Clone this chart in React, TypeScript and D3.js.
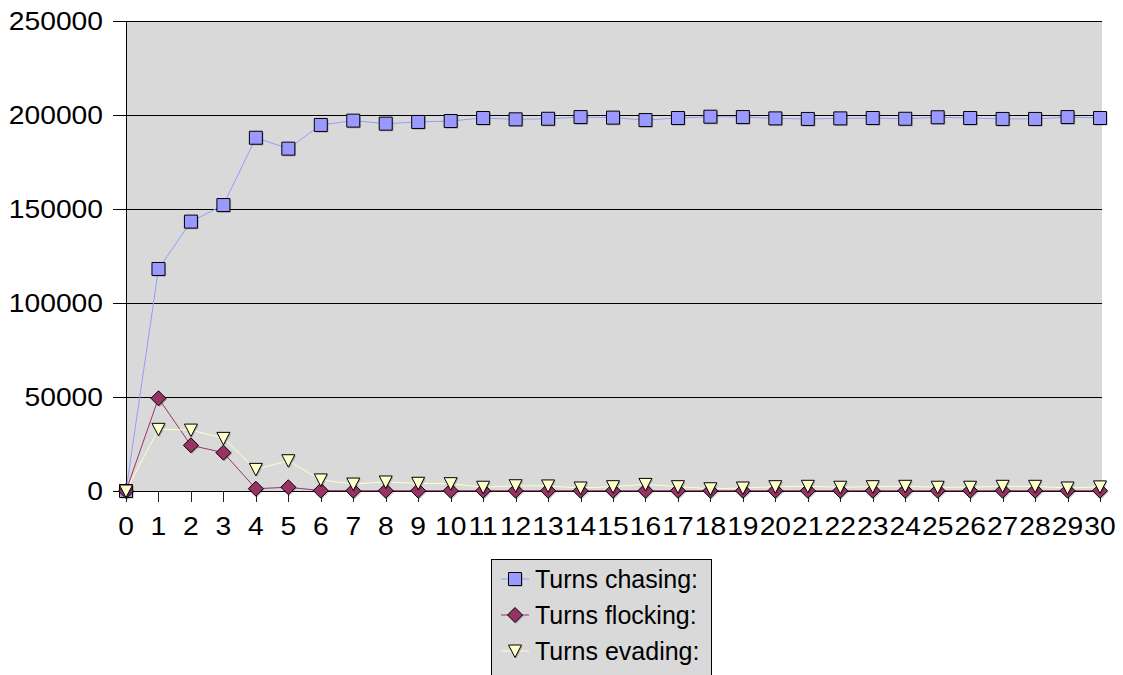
import React from "react";
import * as d3 from "d3";

// Turn counts per generation for each behaviour
const generations: number[] = d3.range(0, 31);
const turnsChasing: number[] = [
  0, 118100, 143300, 152100, 187900, 182100, 194700, 197000, 195400, 196300,
  196800, 198400, 197700, 198000, 198900, 198600, 197300, 198400, 199100, 198900,
  198200, 197900, 198200, 198400, 198000, 198800, 198400, 197900, 197900, 198900,
  198400,
];
const turnsFlocking: number[] = [
  0, 49300, 24300, 20400, 1200, 2000, 200, 150, 150, 150,
  150, 150, 150, 150, 150, 150, 150, 150, 150, 150,
  150, 150, 150, 150, 150, 150, 150, 150, 150, 150,
  150,
];
const turnsEvading: number[] = [
  0, 32800, 32400, 28000, 11500, 16100, 5900, 3700, 4800, 4100,
  3900, 2000, 2800, 2700, 1600, 2300, 3500, 2300, 1200, 1600,
  2300, 2500, 2000, 2300, 2500, 2000, 2000, 2500, 2500, 1600,
  2200,
];
const yTicks: number[] = [0, 50000, 100000, 150000, 200000, 250000];
const seriesNames: string[] = ["Turns chasing:", "Turns flocking:", "Turns evading:"];

const W = 1123;
const H = 675;
const plot = { left: 126, right: 1100, top: 21, bottom: 491 };
const FONT = "'Liberation Sans', Arial, sans-serif";
const BG = "#D9D9D9";
const DIGIT_STRETCH = 1.13;

type Shape = "square" | "diamond" | "triangle";

const seriesDefs: { name: string; values: number[]; color: string; shape: Shape }[] = [
  { name: seriesNames[0], values: turnsChasing, color: "#9999FF", shape: "square" },
  { name: seriesNames[1], values: turnsFlocking, color: "#993366", shape: "diamond" },
  { name: seriesNames[2], values: turnsEvading, color: "#FFFFCC", shape: "triangle" },
];

function markerPath(shape: Shape): string {
  if (shape === "square") return "M-6.5,-6.5H6.5V6.5H-6.5Z";
  if (shape === "diamond") return "M0,-7.5L7.5,0L0,7.5L-7.5,0Z";
  return "M-6.5,-6L6.5,-6L0,6.5Z";
}

function Marker({ x, y, shape, color }: { x: number; y: number; shape: Shape; color: string }) {
  const d = markerPath(shape);
  return (
    <g transform={`translate(${x},${y})`}>
      <path d={d} transform="translate(1.2,1.2)" fill="rgba(0,0,0,0.22)" />
      <path d={d} fill={color} stroke="#000" strokeWidth={1} />
    </g>
  );
}

export default function App() {
  const x = d3.scaleLinear().domain([0, 30]).range([plot.left, plot.right]);
  const y = d3.scaleLinear().domain([0, 250000]).range([plot.bottom, plot.top]);

  const line = d3
    .line<number>()
    .x((_, i) => x(generations[i]))
    .y((v) => y(v));

  const legendX = 491.5;
  const legendY = 559.5;
  const rowBaselines = [588, 624, 660];

  return (
    <div style={{ position: "fixed", left: 0, top: 0 }}>
      <svg width={W} height={H} style={{ display: "block", background: "#fff" }}>
        {/* plot background */}
        <rect
          x={plot.left}
          y={plot.top}
          width={plot.right - plot.left + 2}
          height={plot.bottom - plot.top}
          fill={BG}
        />
        {/* horizontal gridlines and y ticks */}
        {yTicks.map((t) => (
          <g key={t}>
            <line
              x1={plot.left - 13}
              x2={plot.right + 2}
              y1={Math.round(y(t)) + 0.5}
              y2={Math.round(y(t)) + 0.5}
              stroke="#000"
              strokeWidth={1}
            />
            <text
              transform={`translate(103,${y(t)}) scale(${DIGIT_STRETCH},1)`}
              dy="0.36em"
              textAnchor="end"
              fontFamily={FONT}
              fontSize={25}
              fill="#000"
            >
              {t}
            </text>
          </g>
        ))}
        {/* y axis */}
        <line
          x1={plot.left + 0.5}
          x2={plot.left + 0.5}
          y1={plot.top}
          y2={plot.bottom}
          stroke="#000"
          strokeWidth={1}
        />
        {/* x ticks and labels */}
        {generations.map((g) => (
          <g key={g}>
            <line
              x1={Math.round(x(g)) + 0.5}
              x2={Math.round(x(g)) + 0.5}
              y1={plot.bottom}
              y2={plot.bottom + 11}
              stroke="#222"
              strokeWidth={1}
            />
            <text
              transform={`translate(${x(g)},535) scale(${DIGIT_STRETCH},1)`}
              textAnchor="middle"
              fontFamily={FONT}
              fontSize={25}
              fill="#000"
            >
              {g}
            </text>
          </g>
        ))}
        {/* series lines */}
        {seriesDefs.map((s) => (
          <path key={s.name} d={line(s.values) || ""} fill="none" stroke={s.color} strokeWidth={1} />
        ))}
        {/* series markers */}
        {seriesDefs.map((s) => (
          <g key={s.name + "-m"}>
            {s.values.map((v, i) => (
              <Marker key={i} x={x(generations[i])} y={y(v)} shape={s.shape} color={s.color} />
            ))}
          </g>
        ))}
        {/* legend */}
        <rect x={legendX} y={legendY} width={220} height={130} fill={BG} stroke="#000" strokeWidth={1} />
        {seriesDefs.map((s, i) => {
          const cy = rowBaselines[i] - 9;
          return (
            <g key={s.name + "-l"}>
              <line x1={501} x2={529} y1={cy} y2={cy} stroke={s.color} strokeWidth={1} />
              <Marker x={515} y={cy} shape={s.shape} color={s.color} />
              <text x={535} y={rowBaselines[i]} fontFamily={FONT} fontSize={25} fill="#000">
                {s.name}
              </text>
            </g>
          );
        })}
      </svg>
    </div>
  );
}
